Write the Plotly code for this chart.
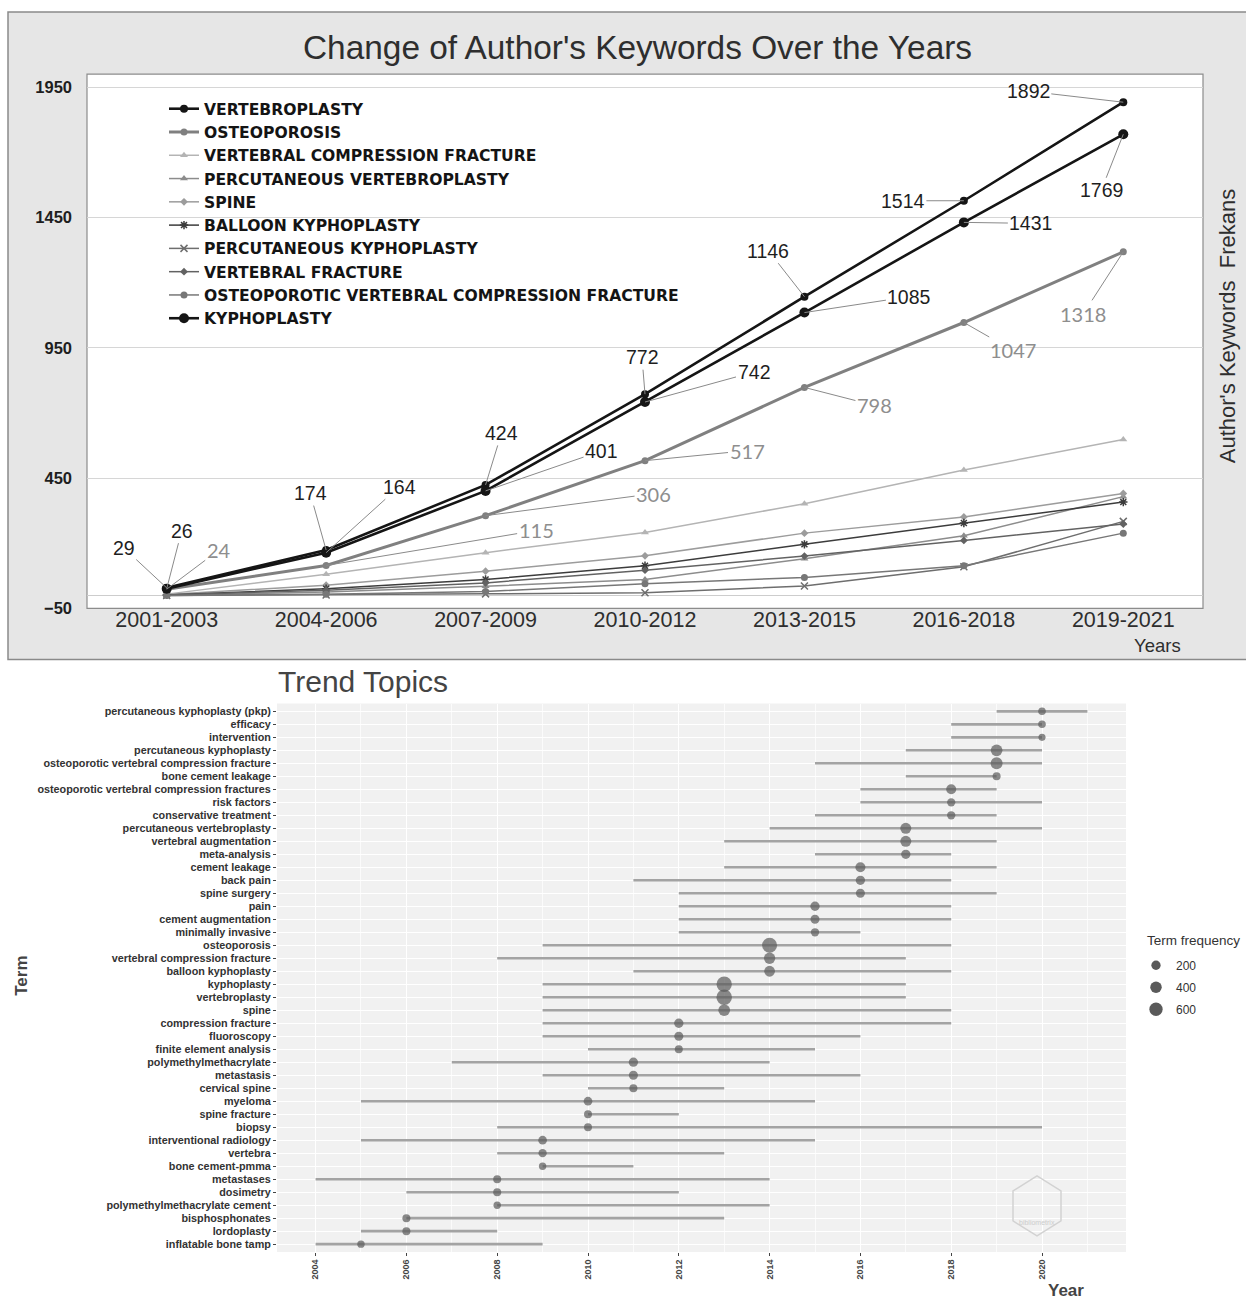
import math
import plotly.graph_objects as go

W = 1246
H = 1310          # figure height in pixels
REF_H = 1300      # layout grid the positions below are laid out on

# ---------------- keyword frequency by period (upper chart) ----------------
periods = ["2001-2003", "2004-2006", "2007-2009", "2010-2012",
           "2013-2015", "2016-2018", "2019-2021"]

vertebroplasty = [29, 174, 424, 772, 1146, 1514, 1892]
osteoporosis = [24, 115, 306, 517, 798, 1047, 1318]
vertebral_compression_fracture = [5, 81, 164, 241, 352, 481, 598]
percutaneous_vertebroplasty = [1, 13, 35, 61, 141, 229, 379]
spine = [4, 39, 93, 152, 239, 301, 391]
balloon_kyphoplasty = [2, 26, 61, 114, 196, 278, 358]
percutaneous_kyphoplasty = [0, 2, 6, 10, 36, 110, 284]
vertebral_fracture = [2, 20, 48, 97, 151, 211, 274]
osteoporotic_vcf = [0, 5, 15, 45, 69, 114, 239]
kyphoplasty = [26, 164, 401, 742, 1085, 1431, 1769]

y_ticks = [-50, 450, 950, 1450, 1950]

# ---------------- trend topics (lower chart) ----------------
terms = [
    "percutaneous kyphoplasty (pkp)", "efficacy", "intervention",
    "percutaneous kyphoplasty", "osteoporotic vertebral compression fracture",
    "bone cement leakage", "osteoporotic vertebral compression fractures",
    "risk factors", "conservative treatment", "percutaneous vertebroplasty",
    "vertebral augmentation", "meta-analysis", "cement leakage", "back pain",
    "spine surgery", "pain", "cement augmentation", "minimally invasive",
    "osteoporosis", "vertebral compression fracture", "balloon kyphoplasty",
    "kyphoplasty", "vertebroplasty", "spine", "compression fracture",
    "fluoroscopy", "finite element analysis", "polymethylmethacrylate",
    "metastasis", "cervical spine", "myeloma", "spine fracture", "biopsy",
    "interventional radiology", "vertebra", "bone cement-pmma", "metastases",
    "dosimetry", "polymethylmethacrylate cement", "bisphosphonates",
    "lordoplasty", "inflatable bone tamp",
]
year_q1 = [2019, 2018, 2018, 2017, 2015, 2017, 2016, 2016, 2015, 2014,
           2013, 2015, 2013, 2011, 2012, 2012, 2012, 2012, 2009, 2008,
           2011, 2009, 2009, 2009, 2009, 2009, 2010, 2007, 2009, 2010,
           2005, 2010, 2008, 2005, 2008, 2009, 2004, 2006, 2008, 2006,
           2005, 2004]
year_median = [2020, 2020, 2020, 2019, 2019, 2019, 2018, 2018, 2018, 2017,
               2017, 2017, 2016, 2016, 2016, 2015, 2015, 2015, 2014, 2014,
               2014, 2013, 2013, 2013, 2012, 2012, 2012, 2011, 2011, 2011,
               2010, 2010, 2010, 2009, 2009, 2009, 2008, 2008, 2008, 2006,
               2006, 2005]
year_q3 = [2021, 2020, 2020, 2020, 2020, 2019, 2019, 2020, 2019, 2020,
           2019, 2018, 2019, 2018, 2019, 2018, 2018, 2016, 2018, 2017,
           2018, 2017, 2017, 2018, 2018, 2016, 2015, 2014, 2016, 2013,
           2015, 2012, 2020, 2015, 2013, 2011, 2014, 2012, 2014, 2013,
           2008, 2009]
term_frequency = [70, 70, 40, 420, 450, 100, 260, 120, 120, 350,
                  350, 200, 260, 200, 176, 200, 176, 120, 810, 380,
                  330, 850, 880, 420, 200, 180, 100, 200, 180, 100,
                  150, 100, 100, 150, 120, 60, 100, 100, 60, 100,
                  100, 60]
size_key = [200, 400, 600]
year_ticks = [2004, 2006, 2008, 2010, 2012, 2014, 2016, 2018, 2020]


def px_x(x):
    return x / W


def px_y(y):
    return 1 - y / REF_H


def bubble_diameter(freq):
    # area grows linearly with frequency, with a floor so small terms stay visible
    return math.sqrt(41.3 + 0.226 * freq)


FONT = "Liberation Sans"
fig = go.Figure()

# ---------------- upper chart traces ----------------
series = [
    # name, values, colour, width, symbol, marker size, legend rank
    ("VERTEBRAL COMPRESSION FRACTURE", vertebral_compression_fracture, "#b4b4b4", 1.5, "triangle-up", 7, 3),
    ("PERCUTANEOUS VERTEBROPLASTY", percutaneous_vertebroplasty, "#8c8c8c", 1.5, "triangle-up", 7, 4),
    ("SPINE", spine, "#9c9c9c", 1.5, "diamond", 6, 5),
    ("BALLOON KYPHOPLASTY", balloon_kyphoplasty, "#3c3c3c", 1.5, "asterisk-open", 7, 6),
    ("PERCUTANEOUS KYPHOPLASTY", percutaneous_kyphoplasty, "#6e6e6e", 1.5, "x-thin-open", 7, 7),
    ("VERTEBRAL FRACTURE", vertebral_fracture, "#626262", 1.5, "diamond", 6, 8),
    ("OSTEOPOROTIC VERTEBRAL COMPRESSION FRACTURE", osteoporotic_vcf, "#777777", 1.5, "circle", 7, 9),
    ("OSTEOPOROSIS", osteoporosis, "#808080", 3, "circle", 7, 2),
    ("VERTEBROPLASTY", vertebroplasty, "#151515", 2.6, "circle", 8, 1),
    ("KYPHOPLASTY", kyphoplasty, "#151515", 2.6, "circle", 10, 10),
]
for name, vals, color, width, symbol, msize, rank in series:
    open_sym = symbol.endswith("open")
    fig.add_trace(go.Scatter(
        x=periods, y=vals, name=name, mode="lines+markers",
        line=dict(color=color, width=width),
        marker=dict(symbol=symbol, size=msize, color=color,
                    line=dict(color=color, width=1.5 if open_sym else 0)),
        legendrank=rank, legendgroup=name,
        xaxis="x", yaxis="y", legend="legend", hoverinfo="x+y+name",
    ))

# value labels with leader lines (text offset from each point, in pixels)
label_offsets_vp = [(-43, -40), (-16, -57), (16, -52), (-3, -37), (-36, -46), (-61, 0), (-95, -11)]
label_offsets_kp = [(15, -58), (73, -66), (116, -40), (109, -30), (105, -16), (67, 1), (-22, 56)]
label_offsets_op = [(52, -39), (210, -35), (168, -22), (102, -10), (70, 18), (49, 28), (-40, 62)]

label_sets = [
    (vertebroplasty, label_offsets_vp, dict(family=FONT, size=19.5, color="#1e1e1e")),
    (kyphoplasty, label_offsets_kp, dict(family=FONT, size=19.5, color="#1e1e1e")),
    (osteoporosis, label_offsets_op, dict(family="Lato", size=20, color="#8e8e8e")),
]
for vals, offsets, font in label_sets:
    for period, v, (ax, ay) in zip(periods, vals, offsets):
        fig.add_annotation(
            x=period, y=v, xref="x", yref="y", text=str(v),
            showarrow=True, arrowhead=0, arrowwidth=1, arrowcolor="#8a8a8a",
            ax=ax, ay=ay, font=font,
        )

# ---------------- lower chart traces ----------------
seg_x, seg_y = [], []
for t, a, b in zip(terms, year_q1, year_q3):
    seg_x += [a, b, None]
    seg_y += [t, t, None]
fig.add_trace(go.Scatter(
    x=seg_x, y=seg_y, mode="lines", line=dict(color="#a3a3a3", width=2.6),
    xaxis="x2", yaxis="y2", showlegend=False, hoverinfo="skip",
))
fig.add_trace(go.Scatter(
    x=year_median, y=terms, mode="markers",
    marker=dict(size=[bubble_diameter(f) for f in term_frequency],
                sizemode="diameter", color="#5a5a5a", line=dict(width=0)),
    customdata=term_frequency,
    hovertemplate="%{y}<br>%{x}<br>freq %{customdata}<extra></extra>",
    xaxis="x2", yaxis="y2", showlegend=False,
))
for f in size_key:
    fig.add_trace(go.Scatter(
        x=[None], y=[None], mode="markers", name=str(f),
        marker=dict(size=bubble_diameter(f), color="#5a5a5a"),
        xaxis="x2", yaxis="y2", legend="legend2", showlegend=True,
        legendgroup="key" + str(f),
    ))

# ---------------- backgrounds and frames ----------------
shapes = [
    # upper panel frame
    dict(type="rect", xref="paper", yref="paper", layer="below",
         x0=px_x(8), x1=px_x(1252), y0=px_y(659), y1=px_y(12),
         fillcolor="#e6e6e6", line=dict(color="#8a8a8a", width=1.5)),
    # upper plotting area
    dict(type="rect", xref="paper", yref="paper", layer="below",
         x0=px_x(87), x1=px_x(1203), y0=px_y(608), y1=px_y(74),
         fillcolor="#ffffff", line=dict(color="#8c8c8c", width=1.2)),
    # lower plotting panel
    dict(type="rect", xref="paper", yref="paper", layer="below",
         x0=px_x(277), x1=px_x(1126), y0=px_y(1251), y1=px_y(703),
         fillcolor="#f1f1f1", line=dict(width=0)),
    # hexagonal watermark
    dict(type="path", xref="paper", yref="paper", layer="above",
         path="M {} {} L {} {} L {} {} L {} {} L {} {} L {} {} Z".format(
             px_x(1037), px_y(1175), px_x(1061), px_y(1190), px_x(1061), px_y(1220),
             px_x(1037), px_y(1235), px_x(1013), px_y(1220), px_x(1013), px_y(1190)),
         line=dict(color="#d2d2d2", width=1.5)),
]

annotations_text = [
    dict(text="Change of Author's Keywords Over the Years", x=px_x(637), y=px_y(47),
         font=dict(family=FONT, size=33.4, color="#2e2e2e")),
    dict(text="Years", x=px_x(1157), y=px_y(645),
         font=dict(family=FONT, size=18.5, color="#2e2e2e")),
    dict(text="Author's Keywords  Frekans", x=px_x(1227), y=px_y(326), textangle=-90,
         font=dict(family=FONT, size=22, color="#2e2e2e")),
    dict(text="Trend Topics", x=px_x(276), y=px_y(681), xanchor="left",
         font=dict(family=FONT, size=30, color="#444444")),
    dict(text="<b>Year</b>", x=px_x(1066), y=px_y(1290),
         font=dict(family=FONT, size=17, color="#444444")),
    dict(text="<b>Term</b>", x=px_x(22), y=px_y(975), textangle=-90,
         font=dict(family=FONT, size=17, color="#444444")),
    dict(text="Term frequency", x=px_x(1145), y=px_y(940), xanchor="left",
         font=dict(family=FONT, size=13.5, color="#333333")),
    dict(text="bibliometrix", x=px_x(1037), y=px_y(1222),
         font=dict(family=FONT, size=7, color="#cccccc")),
]
for a in annotations_text:
    a.setdefault("xanchor", "center")
    fig.add_annotation(xref="paper", yref="paper", showarrow=False, yanchor="middle", **a)

fig.update_layout(
    width=W, height=H,
    margin=dict(l=0, r=0, t=0, b=0),
    paper_bgcolor="#ffffff",
    plot_bgcolor="rgba(0,0,0,0)",
    font=dict(family=FONT, color="#333333"),
    shapes=shapes,
    xaxis=dict(
        domain=[px_x(87), px_x(1203)], anchor="free", position=px_y(604),
        type="category", categoryorder="array", categoryarray=periods,
        range=[-0.5, 6.5], showgrid=False, showline=False, zeroline=False,
        ticks="", tickfont=dict(family=FONT, size=21.5, color="#2e2e2e"),
        fixedrange=True,
    ),
    yaxis=dict(
        domain=[px_y(608), px_y(74)], anchor="x",
        range=[-50, 2000], tickvals=y_ticks,
        showgrid=True, gridcolor="#d6d6d6", gridwidth=1,
        zeroline=True, zerolinecolor="#cdcdcd", zerolinewidth=1,
        showline=False, ticks="", ticklabelstandoff=14,
        tickfont=dict(family=FONT, size=16.5, color="#1e1e1e", weight="bold"),
        fixedrange=True,
    ),
    xaxis2=dict(
        domain=[px_x(277), px_x(1126)], anchor="y2",
        range=[2003.15, 2021.85], tickvals=year_ticks, tickangle=-90,
        showgrid=True, gridcolor="#ffffff", gridwidth=1.2,
        minor=dict(dtick=1, showgrid=True, gridcolor="#fbfbfb", gridwidth=0.6),
        zeroline=False, showline=False,
        ticks="outside", ticklen=3, tickcolor="#444444",
        tickfont=dict(family=FONT, size=9, color="#444444", weight="bold"),
        fixedrange=True,
    ),
    yaxis2=dict(
        domain=[px_y(1251), px_y(703)], anchor="x2",
        type="category", categoryorder="array", categoryarray=terms,
        range=[len(terms) - 0.4, -0.6],
        tickmode="array", tickvals=terms, ticktext=terms,
        showgrid=True, gridcolor="#ffffff", gridwidth=1.2,
        zeroline=False, showline=False,
        ticks="outside", ticklen=3, tickcolor="#444444",
        tickfont=dict(family=FONT, size=10.8, color="#333333", weight="bold"),
        fixedrange=True,
    ),
    legend=dict(
        x=px_x(164), y=px_y(92), xanchor="left", yanchor="top",
        bgcolor="rgba(0,0,0,0)", borderwidth=0,
        font=dict(family="DejaVu Sans", size=15.6, color="#141414", weight="bold"),
        itemwidth=30, traceorder="normal",
    ),
    legend2=dict(
        x=px_x(1136), y=px_y(950), xanchor="left", yanchor="top",
        bgcolor="rgba(0,0,0,0)", borderwidth=0,
        font=dict(family=FONT, size=12, color="#333333"),
        itemsizing="trace", itemwidth=30, tracegroupgap=3,
    ),
)

fig.write_html("out.html")
